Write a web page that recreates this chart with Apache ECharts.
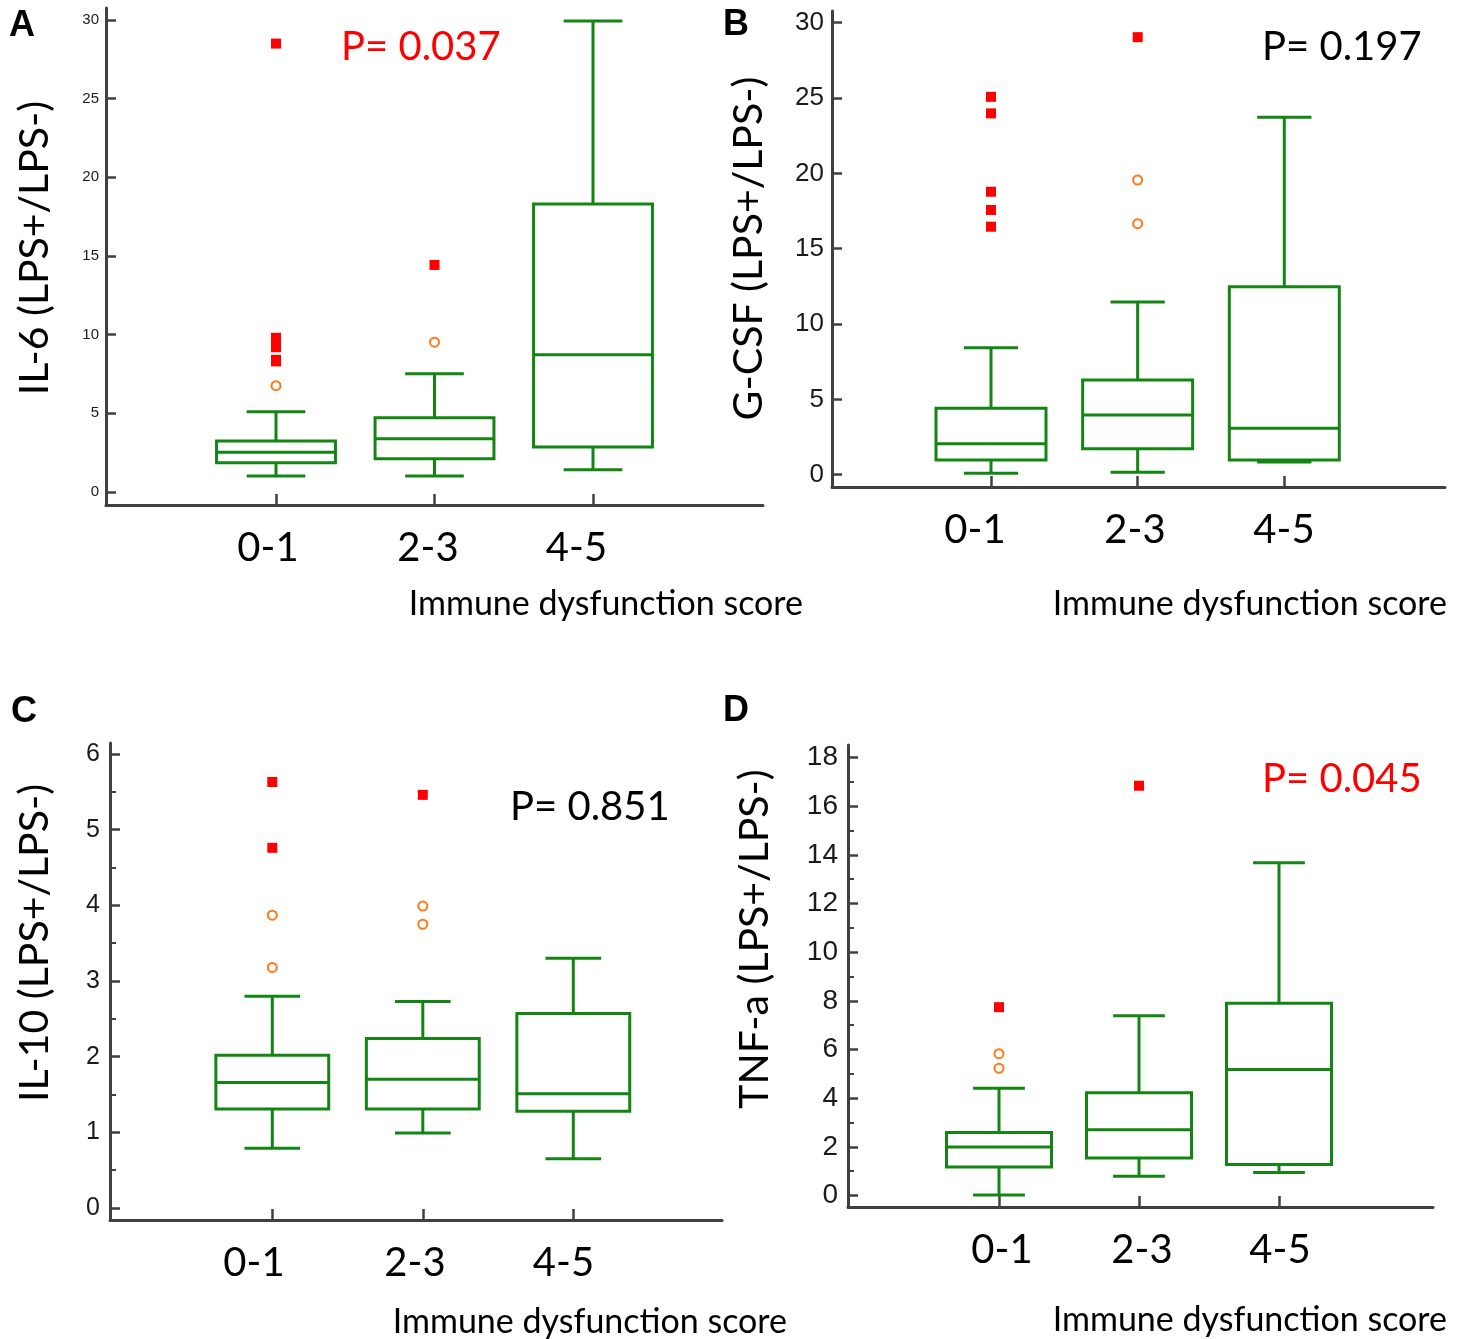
<!DOCTYPE html>
<html>
<head>
<meta charset="utf-8">
<style>
  html, body { margin: 0; padding: 0; background: #fff; }
  #chart { width: 1466px; height: 1339px; }
</style>
<script src="https://cdn.jsdelivr.net/npm/echarts@6/dist/echarts.min.js"></script>
</head>
<body>
<div id="chart"></div>
<script>
// groups on the x axis
const categories = ['0-1', '2-3', '4-5'];
const xName = 'Immune dysfunction score';

// box stats per group: [lower whisker, Q1, median, Q3, upper whisker]
const il6Boxes = [
  [1.02, 1.86, 2.52, 3.24, 5.10],
  [1.02, 2.12, 3.39, 4.72, 7.51],
  [1.42, 2.86, 8.73, 18.30, 29.94]
];
// far outliers (red squares) / near outliers (orange circles), one list per group
const il6Far = [[28.5, 9.8, 9.3, 9.2, 8.4, 8.3], [14.43], []];
const il6Near = [[6.76], [9.52], []];
const il6Ticks = [0, 5, 10, 15, 20, 25, 30];

const gcsfBoxes = [
  [0.09, 0.98, 2.06, 4.41, 8.43],
  [0.16, 1.73, 3.96, 6.28, 11.46],
  [0.84, 0.98, 3.08, 12.48, 23.72]
];
const gcsfFar = [[25.08, 23.98, 18.78, 17.57, 16.46], [29.04], []];
const gcsfNear = [[], [19.56, 16.66], []];
const gcsfTicks = [0, 5, 10, 15, 20, 25, 30];

const il10Boxes = [
  [0.79, 1.31, 1.66, 2.02, 2.80],
  [0.99, 1.31, 1.70, 2.24, 2.73],
  [0.65, 1.28, 1.51, 2.57, 3.30]
];
const il10Far = [[5.63, 4.76], [5.46], []];
const il10Near = [[3.87, 3.18], [3.99, 3.75], []];
const il10Ticks = [0, 1, 2, 3, 4, 5, 6];
const il10Minor = [0.5, 1.5, 2.5, 3.5, 4.5, 5.5];

const tnfBoxes = [
  [0.02, 1.17, 1.99, 2.59, 4.41],
  [0.79, 1.54, 2.70, 4.22, 7.39],
  [0.95, 1.27, 5.18, 7.90, 13.67]
];
const tnfFar = [[7.74], [16.84], []];
const tnfNear = [[5.83, 5.23], [], []];
const tnfTicks = [0, 2, 4, 6, 8, 10, 12, 14, 16, 18];
const tnfMinor = [1, 3, 5, 7, 9, 11, 13, 15, 17];

const GREEN = '#128512';
const RED = '#ff0000';
const ORANGE = '#ff7818';
const AXIS = '#404040';
const SANS = '"Liberation Sans", Arial, sans-serif';
const CAL = 'Lato, "Open Sans", sans-serif';

// layout of each panel in pixels (axis corners, zero line, top tick, first/last group)
const panels = [
  { letter: 'A', boxes: il6Boxes, far: il6Far, near: il6Near, ticks: il6Ticks, minor: [],
    yTitle: 'IL-6 (LPS+/LPS-)', p: 'P= 0.037', pColor: RED,
    g: { left: 106, right: 763, top: 8, bottom: 505, zeroY: 492, topY: 20, cat1X: 276, cat3X: 593 },
    labelX: [268, 428, 576.5], tickFont: 15, tickMargin: 7,
    letterAt: [9, 26], pAt: [341, 47.5], nameAt: [803, 604], titleAt: [35, 248] },
  { letter: 'B', boxes: gcsfBoxes, far: gcsfFar, near: gcsfNear, ticks: gcsfTicks, minor: [],
    yTitle: 'G-CSF (LPS+/LPS-)', p: 'P= 0.197', pColor: '#000',
    g: { left: 832, right: 1445, top: 11, bottom: 487, zeroY: 474.7, topY: 22.7, cat1X: 991, cat3X: 1284.3 },
    labelX: [975, 1135, 1284], tickFont: 26, tickMargin: 8,
    letterAt: [723, 25], pAt: [1262, 47.5], nameAt: [1447, 604], titleAt: [749, 248.5] },
  { letter: 'C', boxes: il10Boxes, far: il10Far, near: il10Near, ticks: il10Ticks, minor: il10Minor,
    yTitle: 'IL-10 (LPS+/LPS-)', p: 'P= 0.851', pColor: '#000',
    g: { left: 110, right: 722, top: 743, bottom: 1220, zeroY: 1208, topY: 754, cat1X: 272.3, cat3X: 573.3 },
    labelX: [254, 415, 563.5], tickFont: 25, tickMargin: 10,
    letterAt: [11, 712], pAt: [510, 807.5], nameAt: [787, 1322], titleAt: [35, 943] },
  { letter: 'D', boxes: tnfBoxes, far: tnfFar, near: tnfNear, ticks: tnfTicks, minor: tnfMinor,
    yTitle: 'TNF-a (LPS+/LPS-)', p: 'P= 0.045', pColor: RED,
    g: { left: 848, right: 1433, top: 745, bottom: 1207, zeroY: 1195.5, topY: 757.5, cat1X: 999, cat3X: 1279 },
    labelX: [1002, 1142, 1280], tickFont: 28, tickMargin: 10,
    letterAt: [723, 711.5], pAt: [1262, 779.5], nameAt: [1447, 1320], titleAt: [755, 939] }
];

function renderBox(params, api) {
  const unit = api.size([1, 0])[0];
  const half = unit * 0.375;
  const cap = unit * 0.185;
  const x = api.value(0);
  const p = [1, 2, 3, 4, 5].map(d => api.coord([x, api.value(d)]));
  const cx = p[0][0];
  const style = { stroke: GREEN, lineWidth: 3, fill: null };
  const line = (x1, y1, x2, y2) => ({ type: 'line', shape: { x1, y1, x2, y2 }, style });
  return {
    type: 'group',
    children: [
      { type: 'rect', shape: { x: cx - half, y: p[3][1], width: half * 2, height: p[1][1] - p[3][1] }, style },
      line(cx - half, p[2][1], cx + half, p[2][1]),
      line(cx, p[3][1], cx, p[4][1]),
      line(cx, p[1][1], cx, p[0][1]),
      line(cx - cap, p[4][1], cx + cap, p[4][1]),
      line(cx - cap, p[0][1], cx + cap, p[0][1])
    ]
  };
}

const grid = [], xAxis = [], yAxis = [], series = [], graphic = [];

function text(str, x, y, font, color, align, extra) {
  return Object.assign({
    type: 'text', x, y, silent: true,
    style: { text: str, font, fill: color, align, textAlign: align, verticalAlign: 'middle', textVerticalAlign: 'middle' }
  }, extra || {});
}

panels.forEach((pn, i) => {
  const g = pn.g;
  const yUnit = (g.zeroY - g.topY) / pn.ticks[pn.ticks.length - 1];
  const yMin = -(g.bottom - g.zeroY) / yUnit;
  const yMax = (g.zeroY - g.top) / yUnit;
  const xUnit = (g.cat3X - g.cat1X) / 2;
  const xMin = 1 - (g.cat1X - g.left) / xUnit;
  const xMax = 3 + (g.right - g.cat3X) / xUnit;
  const labelVals = pn.labelX.map(px => 1 + (px - g.cat1X) / xUnit);

  grid.push({ left: g.left, top: g.top, width: g.right - g.left, height: g.bottom - g.top,
    containLabel: false, outerBoundsMode: 'none' });

  xAxis.push({
    type: 'value', gridIndex: i, position: 'bottom', min: xMin, max: xMax,
    axisLine: { show: true, onZero: false, lineStyle: { color: AXIS, width: 3 } },
    axisTick: { show: true, inside: true, length: 11, customValues: [1, 2, 3], lineStyle: { color: AXIS, width: 2.5 } },
    axisLabel: { show: false },
    splitLine: { show: false }
  });
  xAxis.push({
    type: 'value', gridIndex: i, position: 'bottom', min: xMin, max: xMax,
    axisLine: { show: false, onZero: false },
    axisTick: { show: false },
    axisLabel: {
      show: true, customValues: labelVals, margin: 23,
      formatter: v => categories[Math.round(v) - 1],
      fontFamily: CAL, fontSize: 40, color: '#000'
    },
    splitLine: { show: false }
  });

  yAxis.push({
    type: 'value', gridIndex: i, position: 'left', min: yMin, max: yMax,
    axisLine: { show: true, onZero: false, lineStyle: { color: AXIS, width: 3 } },
    axisTick: { show: true, inside: true, length: 10, customValues: pn.ticks, lineStyle: { color: AXIS, width: 2.5 } },
    axisLabel: { show: true, customValues: pn.ticks, margin: pn.tickMargin, fontFamily: SANS, fontSize: pn.tickFont, color: '#1a1a1a' },
    splitLine: { show: false }
  });
  yAxis.push({
    type: 'value', gridIndex: i, position: 'left', min: yMin, max: yMax,
    axisLine: { show: false, onZero: false },
    axisTick: { show: pn.minor.length > 0, inside: true, length: 6, customValues: pn.minor, lineStyle: { color: AXIS, width: 2 } },
    axisLabel: { show: false },
    splitLine: { show: false }
  });

  series.push({
    type: 'custom', xAxisIndex: 2 * i, yAxisIndex: 2 * i, silent: true, clip: false,
    renderItem: renderBox,
    encode: { x: 0, y: [1, 2, 3, 4, 5] },
    data: pn.boxes.map((b, k) => [k + 1].concat(b))
  });
  const far = [], near = [];
  pn.far.forEach((vals, k) => vals.forEach(v => far.push([k + 1, v])));
  pn.near.forEach((vals, k) => vals.forEach(v => near.push([k + 1, v])));
  series.push({
    type: 'scatter', xAxisIndex: 2 * i, yAxisIndex: 2 * i, silent: true,
    symbol: 'rect', symbolSize: 10, itemStyle: { color: RED, opacity: 1 }, data: far
  });
  series.push({
    type: 'scatter', xAxisIndex: 2 * i, yAxisIndex: 2 * i, silent: true,
    symbol: 'emptyCircle', symbolSize: 9, itemStyle: { color: ORANGE, borderWidth: 1.6, opacity: 1 }, data: near
  });

  graphic.push(text(pn.letter, pn.letterAt[0], pn.letterAt[1], 'bold 36px ' + SANS, '#000', 'left'));
  graphic.push(text(pn.p, pn.pAt[0], pn.pAt[1], '40px ' + CAL, pn.pColor, 'left'));
  graphic.push(text(xName, pn.nameAt[0], pn.nameAt[1], '34px ' + CAL, '#000', 'right'));
  graphic.push(text(pn.yTitle, pn.titleAt[0], pn.titleAt[1], '41px ' + CAL, '#000', 'center', { rotation: Math.PI / 2 }));
});

const chart = echarts.init(document.getElementById('chart'), null, { renderer: 'canvas' });
chart.setOption({
  backgroundColor: '#fff',
  animation: false,
  grid, xAxis, yAxis, series, graphic
});
</script>
</body>
</html>
